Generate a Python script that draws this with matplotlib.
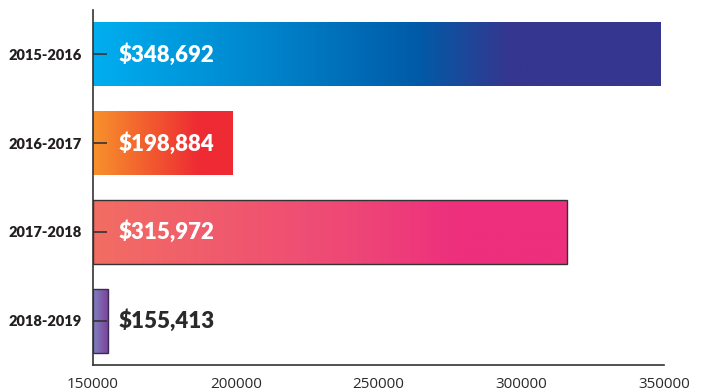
import matplotlib

matplotlib.use("Agg")
import matplotlib.pyplot as plt
import numpy as np
from matplotlib.colors import LinearSegmentedColormap

# Annual totals, top to bottom
years = ["2015-2016", "2016-2017", "2017-2018", "2018-2019"]
totals = [348692, 198884, 315972, 155413]
x_ticks = [150000, 200000, 250000, 300000, 350000]

# Gradient stops (position along bar, colour) for each bar
gradients = [
    [(0.0, "#00aeef"), (0.30, "#0085cc"), (0.57, "#005ba8"), (0.73, "#34378f"), (1.0, "#35368f")],
    [(0.0, "#f7922b"), (0.76, "#ee2a33"), (1.0, "#ee2a33")],
    [(0.0, "#f26d63"), (0.55, "#ee4777"), (0.77, "#ed2f7d"), (1.0, "#ed2f7d")],
    [(0.0, "#8085c2"), (1.0, "#7b3d98")],
]
edges = [None, None, "#333333", "#3a2a55"]
label_colors = ["white", "white", "white", "#2a2a2a"]

fig = plt.figure(figsize=(7.07, 3.92), dpi=100)
ax = fig.add_axes([0.1315, 0.0689, 0.8075, 0.9056])

x_min = x_ticks[0]
positions = np.arange(len(years))
bars = ax.barh(positions, np.array(totals) - x_min, left=x_min, height=0.72,
               facecolor="none", edgecolor="none", zorder=2)

# Fill each bar with a horizontal colour ramp clipped to its rectangle
ramp = np.linspace(0, 1, 256).reshape(1, -1)
for bar, stops, edge in zip(bars, gradients, edges):
    cmap = LinearSegmentedColormap.from_list("bar", stops)
    x0, y0 = bar.get_x(), bar.get_y()
    w, h = bar.get_width(), bar.get_height()
    img = ax.imshow(ramp, extent=[x0, x0 + w, y0 + h, y0], aspect="auto",
                    cmap=cmap, interpolation="bilinear", zorder=1)
    img.set_clip_path(bar)
    if edge is not None:
        bar.set_edgecolor(edge)
        bar.set_linewidth(1.0)

for pos, value, color in zip(positions, totals, label_colors):
    ax.text(159000, pos, f"${value:,}", color=color, fontsize=16,
            fontweight="heavy", family="Lato", ha="left", va="center", zorder=4)

ax.set_xlim(x_ticks[0], x_ticks[-1])
ax.set_ylim(len(years) - 0.5, -0.5)
ax.set_xticks(x_ticks)
ax.set_xticklabels([str(t) for t in x_ticks], fontsize=11, family="Open Sans",
                   color="#2a2a2a")
ax.set_yticks(positions)
ax.set_yticklabels(years, fontsize=10.5, fontweight="heavy", family="Lato",
                   color="#231f20")
ax.tick_params(axis="x", length=0, pad=9)
ax.tick_params(axis="y", direction="in", length=10, width=1.2, color="#333333",
               pad=8)
for side in ("top", "right"):
    ax.spines[side].set_visible(False)
for side in ("left", "bottom"):
    ax.spines[side].set_color("#333333")
    ax.spines[side].set_linewidth(1.2)
ax.set_facecolor("white")

fig.savefig("out.png", dpi=100, facecolor="white")
